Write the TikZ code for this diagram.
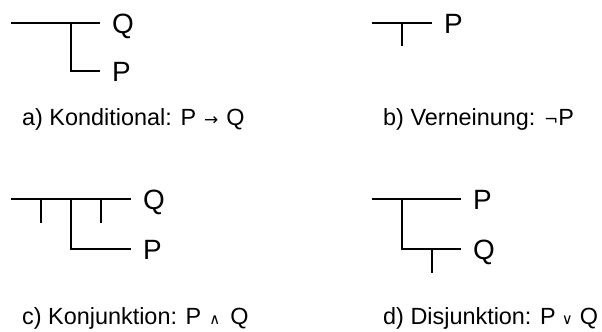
\documentclass[tikz,border=0pt]{standalone}
\usepackage{fontspec}
\setmainfont{Liberation Sans}
\newfontfamily\symfont{DejaVu Sans}
\begin{document}
\begin{tikzpicture}[x=1bp,y=-1bp,
  barline/.style={line width=2.4bp, line cap=butt, line join=miter, black},
  lab/.style={font=\fontsize{28}{28}\selectfont, inner sep=0pt, text height=20bp, text depth=0bp, anchor=west},
  captext/.style={font=\fontsize{23.5}{25}\selectfont, inner sep=0pt, anchor=base west}]
\path[use as bounding box] (0,0) rectangle (602,331);

% a) Konditional
\node[lab] (aQ) at (112,23) {Q};
\node[lab] (aP) at (112,71) {P};
\coordinate (a1) at (11,23);
\coordinate (a3) at (71,23);
\coordinate (a4) at (71,71);
\draw[barline] (a1) -- ([xshift=-12bp]aQ.west);
\draw[barline] (a3) -- (a4) -- ([xshift=-12bp]aP.west);
\node[captext] (acap) at (22,125) {a) Konditional: P\hspace{8bp}{\symfont\fontsize{17}{20}\selectfont →}\hspace{8bp}Q};

% b) Verneinung
\node[lab] (bP) at (444,23) {P};
\coordinate (b1) at (372,23);
\coordinate (b2) at (402,23);
\coordinate (b3) at (402,46);
\draw[barline] (b1) -- ([xshift=-12bp]bP.west);
\draw[barline] (b2) -- (b3);
\node[captext] (bcap) at (383,125) {b) Verneinung: {\symfont\fontsize{17}{20}\selectfont ¬}P};

% c) Konjunktion
\node[lab] (cQ) at (143,199) {Q};
\node[lab] (cP) at (143,249) {P};
\coordinate (c1) at (11,199);
\coordinate (ct1) at (41,199);
\coordinate (ct1e) at (41,223);
\coordinate (cv) at (71,199);
\coordinate (cve) at (71,249);
\coordinate (ct2) at (101,199);
\coordinate (ct2e) at (101,223);
\draw[barline] (c1) -- ([xshift=-12bp]cQ.west);
\draw[barline] (ct1) -- (ct1e);
\draw[barline] (ct2) -- (ct2e);
\draw[barline] (cv) -- (cve) -- ([xshift=-12bp]cP.west);
\node[captext] (ccap) at (22,324) {c) Konjunktion: P\hspace{8bp}{\symfont\fontsize{15}{20}\selectfont ∧}\hspace{10bp}Q};

% d) Disjunktion
\node[lab] (dP) at (473,199) {P};
\node[lab] (dQ) at (473,249) {Q};
\coordinate (d1) at (372,199);
\coordinate (dv) at (402,199);
\coordinate (dve) at (402,249);
\coordinate (dt) at (432,249);
\coordinate (dte) at (432,273);
\draw[barline] (d1) -- ([xshift=-12bp]dP.west);
\draw[barline] (dv) -- (dve) -- ([xshift=-12bp]dQ.west);
\draw[barline] (dt) -- (dte);
\node[captext] (dcap) at (383,324) {d) Disjunktion: P\hspace{6bp}{\symfont\fontsize{15}{20}\selectfont ∨}\hspace{7bp}Q};
\end{tikzpicture}
\end{document}
